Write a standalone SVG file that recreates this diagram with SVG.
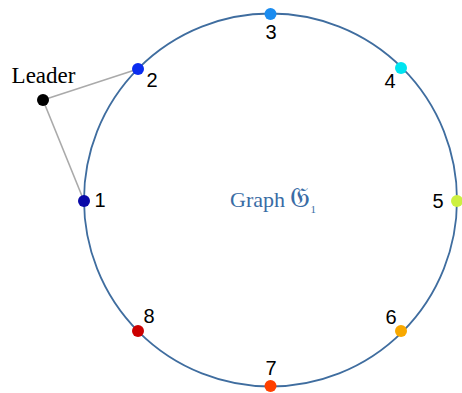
<svg xmlns="http://www.w3.org/2000/svg" width="462" height="393" viewBox="0 0 462 393">
<style>
.lbl{font-family:"Liberation Sans",Arial,sans-serif;font-size:20px;fill:#000;text-anchor:middle}
.edge{stroke:#aaaaaa;stroke-width:1.6;fill:none}
.ring{stroke:#3f6d9f;stroke-width:1.8;fill:none}
.title{font-family:"Liberation Serif","Times New Roman",serif;font-size:22px;fill:#3a6ca5}
</style>
<rect width="462" height="393" fill="#fff"/>
<circle class="ring" cx="270.5" cy="200" r="186.5"/>
<text class="title" x="230" y="207">Graph <tspan font-family="DejaVu Serif, DejaVu Sans, serif" font-size="28">𝔊</tspan><tspan font-size="11" dy="6">1</tspan></text>
<g id="connectors">
<line class="edge" x1="43" y1="100" x2="138" y2="69"/>
<line class="edge" x1="43" y1="100" x2="84" y2="201"/>
</g>
<g id="leader"><circle cx="43" cy="100" r="6" fill="#000"/><text x="43.5" y="83" font-family="Liberation Serif,'Times New Roman',serif" font-size="23" text-anchor="middle">Leader</text></g>
<g id="n1"><circle cx="84" cy="201" r="6" fill="#0a0aa8"/><text class="lbl" x="100" y="207">1</text></g>
<g id="n2"><circle cx="138" cy="69" r="6" fill="#0a2cf0"/><text class="lbl" x="152" y="87">2</text></g>
<g id="n3"><circle cx="270.5" cy="14" r="6" fill="#1a8cf0"/><text class="lbl" x="271" y="39">3</text></g>
<g id="n4"><circle cx="401" cy="68" r="6" fill="#00e4f0"/><text class="lbl" x="390" y="88">4</text></g>
<g id="n5"><circle cx="457" cy="201" r="6" fill="#ccf040"/><text class="lbl" x="438" y="208">5</text></g>
<g id="n6"><circle cx="401" cy="331" r="6" fill="#f8a800"/><text class="lbl" x="391" y="324">6</text></g>
<g id="n7"><circle cx="270.5" cy="386" r="6" fill="#ff4000"/><text class="lbl" x="271" y="375">7</text></g>
<g id="n8"><circle cx="138" cy="331" r="6" fill="#cc0000"/><text class="lbl" x="149" y="323">8</text></g>
</svg>
